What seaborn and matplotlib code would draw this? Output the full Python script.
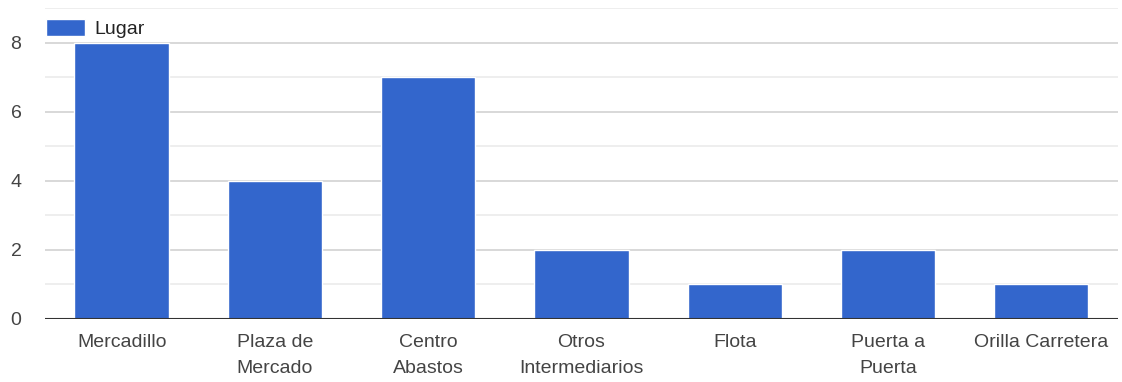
import matplotlib
matplotlib.use("Agg")
import matplotlib.pyplot as plt
import seaborn as sns
import pandas as pd

categories = ["Mercadillo", "Plaza de\nMercado", "Centro\nAbastos", "Otros\nIntermediarios",
              "Flota", "Puerta a\nPuerta", "Orilla Carretera"]
values = [8, 4, 7, 2, 1, 2, 1]
series_name = "Lugar"
y_ticks = [0, 2, 4, 6, 8]

sns.set_theme(style="white")
plt.rcParams['font.family'] = ['Liberation Sans', 'DejaVu Sans']

df = pd.DataFrame({"cat": categories, "val": values, "serie": series_name})

fig = plt.figure(figsize=(11.22, 3.82), dpi=100)
ax = fig.add_axes([0.0401, 0.165, 0.9563, 0.814])

sns.barplot(data=df, x="cat", y="val", hue="serie", palette=["#3366CC"],
            width=0.615, saturation=1, ax=ax, zorder=3)

ax.set_ylim(0, 9)
ax.set_xlim(-0.5, len(categories) - 0.5)
for v in range(1, 10, 2):
    ax.axhline(v, color="#ebebeb", lw=1.2, zorder=1)
for v in y_ticks[1:]:
    ax.axhline(v, color="#d2d2d2", lw=1.2, zorder=1)
ax.axhline(0, color="#333333", lw=1.5, zorder=4)

ax.set_yticks(y_ticks)
ax.set_yticklabels([str(t) for t in y_ticks], fontsize=14, color="#444444")
ax.tick_params(axis="y", length=0, pad=17)
ax.tick_params(axis="x", length=0, pad=11, labelsize=14, labelcolor="#444444")
for lab in ax.get_xticklabels():
    lab.set_linespacing(1.65)
ax.set_xlabel("")
ax.set_ylabel("")
for s in ax.spines.values():
    s.set_visible(False)

leg = ax.legend(loc="upper left", bbox_to_anchor=(46 / 1122, 1 - 19 / 382),
                bbox_transform=fig.transFigure, frameon=False, fontsize=14,
                handlelength=2.0, handleheight=1.0, handletextpad=0.5,
                borderpad=0, borderaxespad=0)
for t in leg.get_texts():
    t.set_color("#222222")

fig.savefig("out.png", dpi=100)
